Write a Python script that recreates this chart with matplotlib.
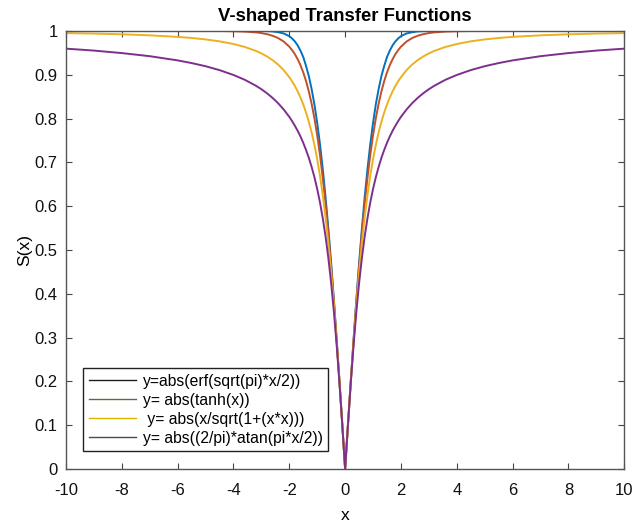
import numpy as np
import matplotlib
matplotlib.use("Agg")
import matplotlib.pyplot as plt
from matplotlib.lines import Line2D

plt.rcParams['font.family'] = ['Liberation Sans', 'DejaVu Sans']
plt.rcParams['axes.unicode_minus'] = False

# x >= 0 sample points (curves are symmetric: abs of odd functions)
x_pos = [0, 0.1, 0.2, 0.3, 0.4, 0.5, 0.6, 0.7, 0.8, 0.9, 1.0, 1.1, 1.2, 1.3, 1.4, 1.5,
         1.6, 1.7, 1.8, 1.9, 2.0, 2.2, 2.4, 2.6, 2.8, 3.0, 3.2, 3.6, 4.0, 4.5, 5.0,
         5.5, 6, 7, 8, 9, 10]
y_erf = [0, 0.0997, 0.198, 0.293, 0.384, 0.469, 0.548, 0.620, 0.684, 0.7407, 0.790,
         0.8323, 0.867, 0.8968, 0.920, 0.9404, 0.955, 0.9669, 0.976, 0.9827, 0.988,
         0.9942, 0.997, 0.9989, 0.9995, 0.9998, 0.9999, 1.0, 1.0, 1.0, 1.0,
         1.0, 1.0, 1.0, 1.0, 1.0, 1.0]
y_tanh = [0, 0.0997, 0.1974, 0.2913, 0.3799, 0.4621, 0.5370, 0.6044, 0.6640, 0.7163,
          0.7616, 0.8005, 0.8337, 0.8617, 0.8854, 0.9051, 0.9217, 0.9354, 0.9468,
          0.9562, 0.9640, 0.9757, 0.9837, 0.9890, 0.9926, 0.9951, 0.9967, 0.9985,
          0.9993, 0.9998, 0.9999, 1.0, 1.0, 1.0, 1.0, 1.0, 1.0]
y_sqrt = [0, 0.0995, 0.1961, 0.2873, 0.3714, 0.4472, 0.5145, 0.5735, 0.6247, 0.6690,
          0.7071, 0.7399, 0.7682, 0.7926, 0.8137, 0.8321, 0.8480, 0.8619, 0.8742,
          0.8849, 0.8944, 0.9104, 0.9231, 0.9333, 0.9417, 0.9487, 0.9545, 0.9635,
          0.9701, 0.9762, 0.9806, 0.9839, 0.9864, 0.9899, 0.9923, 0.9939, 0.9950]
y_atan = [0, 0.0992, 0.1939, 0.2804, 0.3571, 0.4238, 0.4811, 0.5303, 0.5720, 0.6083,
          0.6391, 0.6660, 0.6894, 0.7102, 0.7282, 0.7445, 0.7590, 0.7719, 0.7834,
          0.7941, 0.8038, 0.8206, 0.8349, 0.8471, 0.8577, 0.8669, 0.8750, 0.8886,
          0.8994, 0.9105, 0.9194, 0.9266, 0.9327, 0.9423, 0.9494, 0.9551, 0.9595]

labels = ["y=abs(erf(sqrt(pi)*x/2))", "y= abs(tanh(x))",
          " y= abs(x/sqrt(1+(x*x)))", "y= abs((2/pi)*atan(pi*x/2))"]
colors = ['#0072BD', '#C0502A', '#EDB120', '#7E2F8E']
legend_colors = ['#1e1e1e', '#7a5c40', '#d9b300', '#4a4a4a']

def mirror(xs, ys):
    xs = np.asarray(xs, float)
    ys = np.asarray(ys, float)
    return np.concatenate([-xs[::-1], xs[1:]]), np.concatenate([ys[::-1], ys[1:]])

fig = plt.figure(figsize=(6.35, 5.24), dpi=100)
ax = fig.add_axes([0.104, 0.105, 0.879, 0.836])

for ys, c in zip([y_erf, y_tanh, y_sqrt, y_atan], colors):
    xx, yy = mirror(x_pos, ys)
    ax.plot(xx, yy, color=c, lw=1.4)

ax.set_xlim(-10, 10)
ax.set_ylim(0, 1)
ax.set_xticks(np.arange(-10, 11, 2))
ax.set_yticks(np.round(np.arange(0, 1.01, 0.1), 1))
ax.set_yticklabels(['0', '0.1', '0.2', '0.3', '0.4', '0.5', '0.6', '0.7', '0.8', '0.9', '1'])
ax.tick_params(direction='in', top=True, right=True, length=4, width=0.8,
               labelsize=12, color='#444444', labelcolor='#111111')
ax.tick_params(axis='x', pad=10)
ax.tick_params(axis='y', pad=6)
for s in ax.spines.values():
    s.set_color('#555555')
    s.set_linewidth(1.0)

ax.set_xlabel('x', fontsize=12.5, labelpad=7)
ax.set_ylabel('S(x)', fontsize=12.5, labelpad=2)
ax.set_title('V-shaped Transfer Functions', fontsize=13.3, fontweight='bold', pad=7)

handles = [Line2D([0], [0], color=c, lw=1.0) for c in legend_colors]
leg = ax.legend(handles, labels, loc='lower left', bbox_to_anchor=(0.022, 0.03),
                fontsize=11.3, handlelength=3.0, handletextpad=0.45, labelspacing=0.25,
                borderpad=0.35, borderaxespad=0.3, fancybox=False, framealpha=1,
                edgecolor='#222222')
leg.get_frame().set_linewidth(1.0)

fig.savefig('out.png', dpi=100)
